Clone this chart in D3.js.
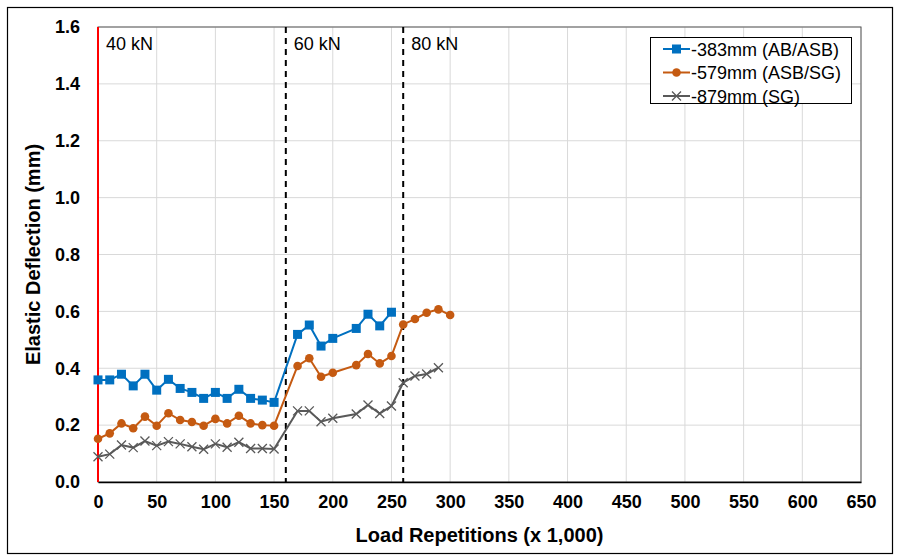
<!DOCTYPE html>
<html>
<head>
<meta charset="utf-8">
<script src="https://cdn.jsdelivr.net/npm/d3@7"></script>
<style>
  body { margin: 0; background: #fff; }
  svg { font-family: "Liberation Sans", Arial, sans-serif; }
</style>
</head>
<body>
<svg id="chart" width="899" height="557"></svg>
<script>
// data (x = load repetitions in thousands)
var repsA = [0, 10, 20, 30, 40, 50, 60, 70, 80, 90, 100, 110, 120, 130, 140, 150, 170, 180, 190, 200, 220, 230, 240, 250];
var defl383 = [0.359, 0.359, 0.379, 0.338, 0.379, 0.323, 0.361, 0.329, 0.315, 0.294, 0.315, 0.294, 0.326, 0.294, 0.288, 0.280,
               0.519, 0.552, 0.478, 0.505, 0.540, 0.590, 0.549, 0.597];
var repsB = [0, 10, 20, 30, 40, 50, 60, 70, 80, 90, 100, 110, 120, 130, 140, 150, 170, 180, 190, 200, 220, 230, 240, 250, 260, 270, 280, 290, 300];
var defl579 = [0.152, 0.171, 0.206, 0.189, 0.230, 0.198, 0.242, 0.218, 0.211, 0.198, 0.222, 0.206, 0.233, 0.206, 0.200, 0.198,
               0.408, 0.435, 0.370, 0.384, 0.411, 0.450, 0.417, 0.443, 0.554, 0.573, 0.595, 0.607, 0.587];
var repsC = [0, 10, 20, 30, 40, 50, 60, 70, 80, 90, 100, 110, 120, 130, 140, 150, 170, 180, 190, 200, 220, 230, 240, 250, 260, 270, 280, 290];
var defl879 = [0.089, 0.098, 0.130, 0.121, 0.144, 0.128, 0.142, 0.134, 0.124, 0.115, 0.134, 0.122, 0.140, 0.118, 0.118, 0.116,
               0.250, 0.250, 0.212, 0.224, 0.239, 0.271, 0.241, 0.267, 0.349, 0.373, 0.380, 0.402];

var seriesNames = ["-383mm (AB/ASB)", "-579mm (ASB/SG)", "-879mm (SG)"];
var loadStages = [0, 160, 260];
var loadLabels = ["40 kN", "60 kN", "80 kN"];
var xTicks = d3.range(0, 651, 50);
var yTicks = d3.range(0, 1.61, 0.2);

var svg = d3.select("#chart");
var plotL = 98, plotR = 861, plotT = 27, plotB = 482;

var x = d3.scaleLinear().domain([0, 650]).range([plotL, plotR]);
var y = d3.scaleLinear().domain([0, 1.6]).range([plotB, plotT]);

// outer frame
svg.append("rect").attr("x", 7.5).attr("y", 7.5).attr("width", 885).attr("height", 546)
    .attr("fill", "none").attr("stroke", "#000").attr("stroke-width", 1.2);

// grid
svg.append("g").selectAll("line").data(xTicks.slice(1)).enter().append("line")
    .attr("x1", function (d) { return x(d); }).attr("x2", function (d) { return x(d); })
    .attr("y1", plotT).attr("y2", plotB)
    .attr("stroke", "#d9d9d9").attr("stroke-width", 1);
svg.append("g").selectAll("line").data(yTicks.slice(1)).enter().append("line")
    .attr("x1", plotL).attr("x2", plotR)
    .attr("y1", function (d) { return y(d); }).attr("y2", function (d) { return y(d); })
    .attr("stroke", "#d9d9d9").attr("stroke-width", 1);

// plot border
svg.append("rect").attr("x", plotL).attr("y", plotT).attr("width", plotR - plotL).attr("height", plotB - plotT)
    .attr("fill", "none").attr("stroke", "#595959").attr("stroke-width", 1);

// axes
var xAxis = d3.axisBottom(x).tickValues(xTicks).tickSize(0).tickPadding(13).tickFormat(d3.format("d"));
var gx = svg.append("g").attr("transform", "translate(0," + plotB + ")").call(xAxis);
gx.select(".domain").attr("stroke", "#000").attr("stroke-width", 1.5);
gx.selectAll("text").attr("font-size", 18).attr("font-weight", "bold").attr("fill", "#000")
    .attr("font-family", "Liberation Sans, Arial, sans-serif");

var yAxis = d3.axisLeft(y).tickValues(yTicks).tickSize(0).tickPadding(18).tickFormat(d3.format(".1f"));
var gy = svg.append("g").attr("transform", "translate(" + plotL + ",0)").call(yAxis);
gy.select(".domain").remove();
gy.selectAll("text").attr("font-size", 18).attr("font-weight", "bold").attr("fill", "#000")
    .attr("font-family", "Liberation Sans, Arial, sans-serif");

// axis titles
svg.append("text").attr("x", (plotL + plotR) / 2).attr("y", 542).attr("text-anchor", "middle")
    .attr("font-size", 20).attr("font-weight", "bold").text("Load Repetitions (x 1,000)");
svg.append("text").attr("transform", "translate(40," + ((plotT + plotB) / 2) + ") rotate(-90)")
    .attr("text-anchor", "middle").attr("font-size", 20).attr("font-weight", "bold")
    .text("Elastic Deflection (mm)");

// load stage markers
loadStages.forEach(function (s, i) {
    var ln = svg.append("line").attr("x1", x(s)).attr("x2", x(s)).attr("y1", plotT).attr("y2", plotB);
    if (i == 0) {
        ln.attr("stroke", "#ff0000").attr("stroke-width", 2);
    } else {
        ln.attr("stroke", "#000").attr("stroke-width", 2).attr("stroke-dasharray", "6,5");
    }
    svg.append("text").attr("x", x(s) + 8).attr("y", 50)
        .attr("font-size", 18).attr("fill", "#000").text(loadLabels[i]);
});

var line = d3.line().x(function (d) { return x(d[0]); }).y(function (d) { return y(d[1]); });

function drawMarker(g, type, cx, cy, color) {
    if (type == "square") {
        g.append("rect").attr("x", cx - 4.5).attr("y", cy - 4.5).attr("width", 9).attr("height", 9).attr("fill", color);
    } else if (type == "circle") {
        g.append("circle").attr("cx", cx).attr("cy", cy).attr("r", 4.3).attr("fill", color);
    } else {
        g.append("path").attr("d", "M" + (cx - 4.5) + "," + (cy - 4.5) + "L" + (cx + 4.5) + "," + (cy + 4.5) +
            "M" + (cx - 4.5) + "," + (cy + 4.5) + "L" + (cx + 4.5) + "," + (cy - 4.5))
            .attr("stroke", color).attr("stroke-width", 1.3).attr("fill", "none");
    }
}

var series = [
    { xs: repsA, ys: defl383, color: "#0070c0", marker: "square" },
    { xs: repsB, ys: defl579, color: "#c55a11", marker: "circle" },
    { xs: repsC, ys: defl879, color: "#595959", marker: "x" }
];

series.slice().reverse().forEach(function (s) {
    var pts = s.xs.map(function (v, i) { return [v, s.ys[i]]; });
    var g = svg.append("g");
    g.append("path").datum(pts).attr("d", line).attr("fill", "none")
        .attr("stroke", s.color).attr("stroke-width", 2);
    pts.forEach(function (p) { drawMarker(g, s.marker, x(p[0]), y(p[1]), s.color); });
});

// legend
var lg = svg.append("g");
lg.append("rect").attr("x", 650.5).attr("y", 37.5).attr("width", 201).attr("height", 66)
    .attr("fill", "#fff").attr("stroke", "#000").attr("stroke-width", 1);
series.forEach(function (s, i) {
    var ly = 49 + i * 23.5;
    lg.append("line").attr("x1", 663).attr("x2", 690).attr("y1", ly).attr("y2", ly)
        .attr("stroke", s.color).attr("stroke-width", 2);
    drawMarker(lg, s.marker, 676.5, ly, s.color);
    lg.append("text").attr("x", 691).attr("y", ly + 6.5).attr("font-size", 18).attr("fill", "#000")
        .text(seriesNames[i]);
});
</script>
</body>
</html>
